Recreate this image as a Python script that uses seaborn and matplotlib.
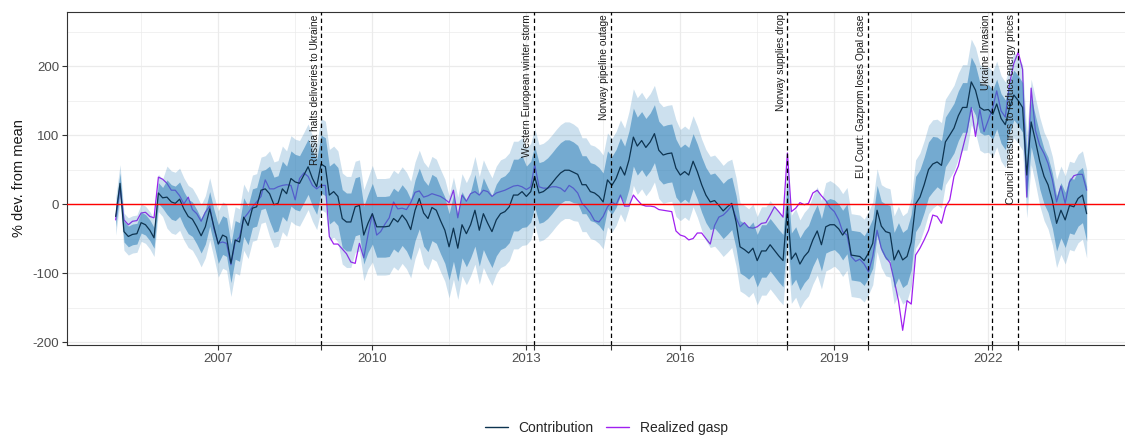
import numpy as np
import pandas as pd
import seaborn as sns
import matplotlib.pyplot as plt
import matplotlib.transforms as mtransforms
from matplotlib.lines import Line2D

# monthly values, Jan 2005 .. Dec 2023 (% deviation from mean)
contribution = [
    -18, 30, -40, -47, -44, -43, -27, -30, -38, -49, 16, 9,          # 2005
    10, 3, 1, 7, -7, -18, -22, -33, -46, -33, -7, -33,               # 2006
    -58, -45, -48, -86, -52, -55, -19, -31, -6, -4, 20, 22,          # 2007
    15, -1, 1, 22, 15, 37, 32, 30, 42, 54, 37, 25,                   # 2008
    58, 54, 13, 18, 11, -21, -26, -26, -4, -2, -45, -28,             # 2009
    -14, -33, -33, -33, -32, -21, -26, -16, -24, -37, -9, 8,         # 2010
    -13, -21, -5, -9, -24, -38, -62, -35, -64, -30, -43, -30,        # 2011
    -9, -38, -14, -28, -40, -23, -14, -11, -4, 13, 13, 18,           # 2012
    11, 18, 40, 16, 18, 23, 30, 38, 45, 49, 49, 46,                  # 2013
    43, 28, 28, 18, 16, 11, 3, 35, 27, 37, 54, 42,                   # 2014
    64, 97, 84, 92, 82, 90, 102, 78, 71, 73, 74, 52,                 # 2015
    42, 47, 42, 62, 47, 28, 13, 3, 5, -2, -10, -4,                   # 2016
    1, -26, -62, -66, -71, -64, -82, -68, -68, -59, -67, -75,        # 2017
    -82, -5, -80, -71, -87, -76, -69, -52, -39, -59, -33, -30,       # 2018
    -30, -36, -45, -36, -74, -75, -76, -82, -71, -57, -9, -32,       # 2019
    -40, -42, -81, -67, -81, -76, -55, 0, 10, 28, 50, 58,            # 2020
    61, 56, 90, 100, 110, 128, 140, 140, 177, 165, 140, 136,         # 2021
    137, 130, 145, 124, 115, 140, 158, 150, 140, 42, 119, 92,        # 2022
    62, 40, 28, 5, -28, -9, -23, -2, -4, 8, 13, -14,                 # 2023
]
realized = [
    -23, 25, -23, -30, -25, -24, -13, -12, -18, -20, 39, 36,
    30, 20, 20, 12, 0, 10, -8, -14, -25, -12, -3, -36,
    -57, -55, -57, -88, -55, -48, -21, -13, -4, 3, 11, 35,
    22, 22, 25, 27, 28, 27, 6, 37, 45, 40, 27, 22,
    27, 27, -47, -58, -58, -65, -72, -84, -86, -57, -78, -45,
    -14, -45, -40, -29, -20, 3, -7, -6, -8, 2, 17, 19,
    10, 12, 15, 13, 11, 7, 2, 20, -20, 13, 4, 15,
    18, 13, 20, 18, 11, 16, 18, 20, 23, 26, 27, 25,
    21, 25, 57, 25, 23, 23, 25, 25, 23, 18, 27, 23,
    16, 1, -5, -13, -24, -26, -18, -4, 3, -1, 13, -3,
    -3, 13, 6, -1, -3, -3, -4, -8, -9, -10, -11, -39,
    -45, -47, -52, -50, -42, -42, -50, -58, -31, -19, -16, -10,
    -2, -20, -33, -27, -34, -35, -33, -28, -27, -16, -4, -11,
    -19, 74, -11, -6, 2, -1, 1, 16, 20, 12, 5, -5,
    -11, -23, -40, -45, -76, -83, -80, -87, -98, -76, -38, -64,
    -77, -85, -110, -140, -183, -140, -145, -74, -64, -52, -38, -16,
    -18, -28, -5, 6, 40, 55, 80, 105, 140, 98, 137, 105,
    122, 140, 164, 135, 126, 175, 204, 220, 195, 10, 168, 107,
    85, 73, 59, 35, 3, 26, 1, 32, 41, 43, 43, 20,
]
# half widths of the two credible bands, read per year
inner_halfwidth = [15, 25, 28, 40, 42, 44, 48, 52, 44, 42, 42, 40, 38, 38, 36, 40, 36, 36, 40]
outer_halfwidth = [27, 45, 48, 62, 66, 70, 74, 78, 70, 68, 70, 66, 64, 64, 60, 64, 62, 62, 64]

event_dates = ['2009-01-01', '2013-02-23', '2014-08-25', '2018-02-01',
               '2019-08-25', '2022-01-27', '2022-07-28']
event_labels = ['Russia halts deliveries to Ukraine', 'Western European winter storm',
                'Norway pipeline outage', 'Norway supplies drop',
                'EU Court: Gazprom loses Opal case', 'Ukraine Invasion',
                'Council measures to reduce energy prices']

major_years = [2007, 2010, 2013, 2016, 2019, 2022]

NAVY = '#0d3350'
PURPLE = '#a020f0'
BAND = '#2c7fb8'

df = pd.DataFrame({
    'date': pd.date_range('2005-01-01', periods=len(contribution), freq='MS'),
    'contribution': contribution,
    'realized': realized,
})
df['inner'] = np.repeat(inner_halfwidth, 12)
df['outer'] = np.repeat(outer_halfwidth, 12)

sns.set_theme(style='white')
plt.rcParams['font.family'] = ['Liberation Sans', 'DejaVu Sans']
plt.rcParams['axes.unicode_minus'] = False

fig = plt.figure(figsize=(11.25, 4.36), dpi=100)
ax = fig.add_axes([66.9 / 1125, 91 / 436, (1135.3 - 66.9) / 1125, 333 / 436])

# grid (theme_bw look)
for yr in major_years:
    ax.axvline(pd.Timestamp(f'{yr}-01-01'), color='#ebebeb', lw=0.9, zorder=0)
for yr in range(2005, 2025, 3):
    ax.axvline(pd.Timestamp(f'{yr}-07-02'), color='#ebebeb', lw=0.5, zorder=0)
for v in [-200, -100, 0, 100, 200]:
    ax.axhline(v, color='#ebebeb', lw=0.9, zorder=0)
for v in [-150, -50, 50, 150, 250]:
    ax.axhline(v, color='#ebebeb', lw=0.5, zorder=0)

sns.lineplot(data=df, x='date', y='realized', color=PURPLE, lw=0.9, ax=ax, zorder=2, legend=False)
ax.fill_between(df['date'], df['contribution'] - df['outer'], df['contribution'] + df['outer'],
                color=BAND, alpha=0.24, lw=0, zorder=3)
ax.fill_between(df['date'], df['contribution'] - df['inner'], df['contribution'] + df['inner'],
                color=BAND, alpha=0.55, lw=0, zorder=4)
sns.lineplot(data=df, x='date', y='contribution', color=NAVY, lw=0.9, ax=ax, zorder=5, legend=False)

ax.axhline(0, color='red', lw=1.0, zorder=6)

trans = mtransforms.blended_transform_factory(ax.transData, ax.transAxes)
trans_txt = mtransforms.offset_copy(trans, fig=fig, x=-1.5, y=0, units='dots')
for d, lab in zip(event_dates, event_labels):
    d = pd.Timestamp(d)
    ax.axvline(d, color='black', lw=0.9, ls=(0, (3.5, 2.5)), zorder=7)
    ax.text(d, 0.993, lab, rotation=90, ha='right', va='top', fontsize=7.3,
            color='#1a1a1a', transform=trans_txt, zorder=8)

ax.set_xlim(pd.Timestamp('2004-01-20'), pd.Timestamp('2024-11-11'))
ax.set_ylim(-204.3, 278.3)
ax.set_xticks([pd.Timestamp(f'{y}-01-01') for y in major_years])
ax.set_xticklabels([str(y) for y in major_years])
ax.set_xticks([pd.Timestamp(d) for d in event_dates], minor=True)
ax.set_yticks([-200, -100, 0, 100, 200])
ax.set_yticklabels(['-200', '-100', '0', '100', '200'])
ax.tick_params(axis='both', which='both', direction='out', length=3.5, width=0.8,
               color='#333333', labelcolor='#4d4d4d', labelsize=9.5, pad=2,
               bottom=True, left=True)
ax.set_xlabel('')
ax.set_ylabel('% dev. from mean', fontsize=10.5, color='#1a1a1a', labelpad=5)
for s in ax.spines.values():
    s.set_color('#333333')
    s.set_linewidth(0.8)

handles = [Line2D([], [], color=NAVY, lw=1.0), Line2D([], [], color=PURPLE, lw=1.0)]
fig.legend(handles, ['Contribution', 'Realized gasp'], loc='center',
           bbox_to_anchor=(606.5 / 1125, 8 / 436), ncol=2, frameon=False,
           fontsize=10, handlelength=1.6, handletextpad=0.8, columnspacing=0.9)

fig.savefig('out.png', dpi=100)
